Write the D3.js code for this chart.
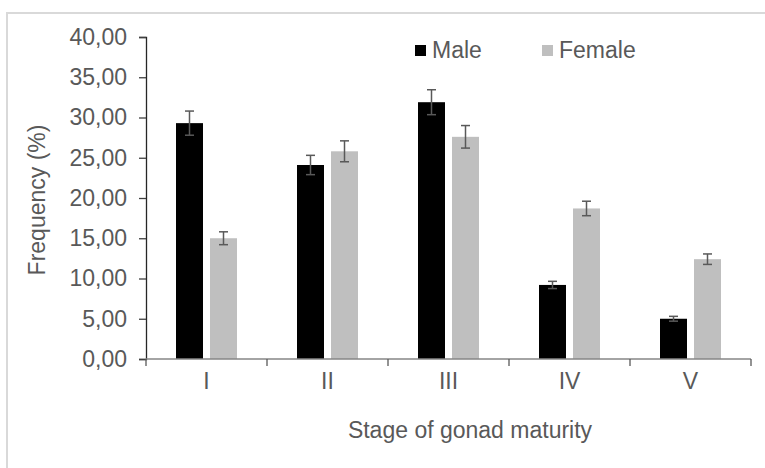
<!DOCTYPE html>
<html>
<head>
<meta charset="utf-8">
<script src="https://cdn.jsdelivr.net/npm/d3@7"></script>
<style>
  body { margin: 0; background: #fff; }
  text { font-family: "Liberation Sans", Arial, sans-serif; }
</style>
</head>
<body>
<svg id="chart" width="765" height="468"></svg>
<script>
// data
var stages = ["I", "II", "III", "IV", "V"];
var series = ["Male", "Female"];
var maleValues = [29.3, 24.1, 31.9, 9.2, 5.0];
var femaleValues = [15.0, 25.8, 27.6, 18.7, 12.4];
var maleErr = [1.5, 1.2, 1.55, 0.45, 0.3];
var femaleErr = [0.8, 1.3, 1.4, 0.9, 0.65];
var yTicks = [0, 5, 10, 15, 20, 25, 30, 35, 40];

var colors = { Male: "#000000", Female: "#bfbfbf" };
var textColor = "#595959";

var svg = d3.select("#chart");

// light frame round the chart area
svg.append("path")
  .attr("d", "M7,468 L7,13 L765,13")
  .attr("fill", "none")
  .attr("stroke", "#d9d9d9")
  .attr("stroke-width", 2);

var x = d3.scaleBand().domain(stages).range([146, 751]).padding(0);
var xs = d3.scaleBand().domain(series).range([30, 91]).paddingInner(0.206).paddingOuter(0);
var y = d3.scaleLinear().domain([0, 40]).range([359, 37]);

var locale = d3.formatLocale({ decimal: ",", thousands: ".", grouping: [3], currency: ["", ""] });
var fmt = locale.format(".2f");

var rows = stages.map(function (s, i) {
  return [
    { stage: s, key: "Male", v: maleValues[i], e: maleErr[i] },
    { stage: s, key: "Female", v: femaleValues[i], e: femaleErr[i] }
  ];
});
var flat = [].concat.apply([], rows);

// bars
svg.append("g").selectAll("rect")
  .data(flat)
  .enter().append("rect")
  .attr("x", function (d) { return x(d.stage) + xs(d.key); })
  .attr("y", function (d) { return y(d.v); })
  .attr("width", xs.bandwidth())
  .attr("height", function (d) { return y(0) - y(d.v); })
  .attr("fill", function (d) { return colors[d.key]; });

// error bars
var eb = svg.append("g")
  .attr("stroke", "#595959")
  .attr("stroke-width", 1.5)
  .selectAll("g")
  .data(flat)
  .enter().append("g");
eb.append("line")
  .attr("x1", function (d) { return x(d.stage) + xs(d.key) + xs.bandwidth() / 2; })
  .attr("x2", function (d) { return x(d.stage) + xs(d.key) + xs.bandwidth() / 2; })
  .attr("y1", function (d) { return y(d.v + d.e); })
  .attr("y2", function (d) { return y(d.v - d.e); });
[1, -1].forEach(function (sign) {
  eb.append("line")
    .attr("x1", function (d) { return x(d.stage) + xs(d.key) + xs.bandwidth() / 2 - 4.5; })
    .attr("x2", function (d) { return x(d.stage) + xs(d.key) + xs.bandwidth() / 2 + 4.5; })
    .attr("y1", function (d) { return y(d.v + sign * d.e); })
    .attr("y2", function (d) { return y(d.v + sign * d.e); });
});

// y axis
var yAxis = svg.append("g")
  .attr("transform", "translate(146,0)")
  .call(d3.axisLeft(y).tickValues(yTicks).tickFormat(fmt).tickSize(7).tickPadding(12));
yAxis.select(".domain").attr("stroke", "#262626").attr("stroke-width", 1.3);
yAxis.selectAll(".tick line").attr("stroke", "#404040").attr("stroke-width", 1.3);
yAxis.selectAll(".tick text")
  .attr("fill", textColor)
  .attr("font-size", "23px")
  .attr("font-family", "Liberation Sans, Arial, sans-serif");

// x axis
var xAxis = svg.append("g")
  .attr("transform", "translate(0,359)")
  .call(d3.axisBottom(x).tickSize(0).tickPadding(14));
xAxis.select(".domain").remove();
xAxis.append("line")
  .attr("x1", x.range()[0]).attr("x2", x.range()[1])
  .attr("stroke", "#868686").attr("stroke-width", 1.5);
xAxis.selectAll(".boundary")
  .data(stages.concat(["end"]))
  .enter().append("line")
  .attr("class", "boundary")
  .attr("x1", function (d) { return d === "end" ? x.range()[1] : x(d); })
  .attr("x2", function (d) { return d === "end" ? x.range()[1] : x(d); })
  .attr("y1", 0).attr("y2", 7)
  .attr("stroke", "#595959").attr("stroke-width", 1.3);
xAxis.selectAll(".tick text")
  .attr("fill", textColor)
  .attr("font-size", "23px")
  .attr("font-family", "Liberation Sans, Arial, sans-serif");

// axis titles
svg.append("text")
  .attr("x", 470)
  .attr("y", 438)
  .attr("text-anchor", "middle")
  .attr("fill", textColor)
  .attr("font-size", "23px")
  .text("Stage of gonad maturity");

svg.append("text")
  .attr("transform", "translate(45,200) rotate(-90)")
  .attr("text-anchor", "middle")
  .attr("fill", textColor)
  .attr("font-size", "23px")
  .text("Frequency (%)");

// legend
var legendX = { Male: 415, Female: 542 };
var lg = svg.append("g").selectAll("g")
  .data(series)
  .enter().append("g")
  .attr("transform", function (d) { return "translate(" + legendX[d] + ",45)"; });
lg.append("rect")
  .attr("width", 11).attr("height", 11)
  .attr("fill", function (d) { return colors[d]; });
lg.append("text")
  .attr("x", 17).attr("y", 13)
  .attr("fill", textColor)
  .attr("font-size", "23px")
  .text(function (d) { return d; });
</script>
</body>
</html>
